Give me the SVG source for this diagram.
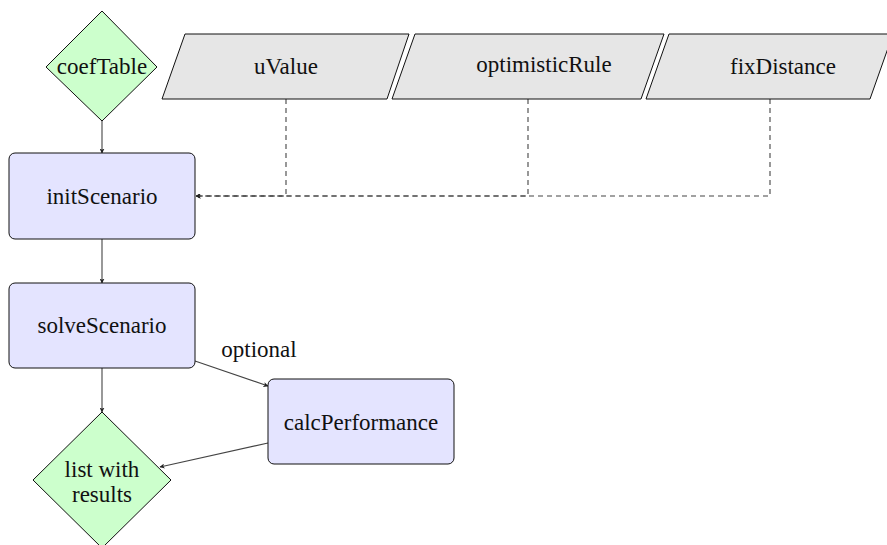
<svg xmlns="http://www.w3.org/2000/svg" width="887" height="545" viewBox="0 0 887 545">
<defs>
<marker id="ah" viewBox="0 0 10 10" refX="9" refY="5" markerWidth="5" markerHeight="5" markerUnits="userSpaceOnUse" orient="auto">
<path d="M0,0 L10,5 L0,10 L2.5,5 Z" fill="#222"/>
</marker>
</defs>
<style>
text{font-family:'Liberation Serif','Times New Roman',serif;font-size:23px;fill:#111;text-anchor:middle}
.dia{fill:#ccffcc;stroke:#111;stroke-width:1}
.proc{fill:#e4e4ff;stroke:#111;stroke-width:1}
.io{fill:#e6e6e6;stroke:#111;stroke-width:1}
.c{fill:none;stroke:#444;stroke-width:1.1}
.d{fill:none;stroke:#444;stroke-width:1.1;stroke-dasharray:5,4}
</style>
<g id="connectors">
<line class="c" x1="102" y1="121" x2="102" y2="153" marker-end="url(#ah)"/>
<line class="c" x1="102" y1="239" x2="102" y2="283" marker-end="url(#ah)"/>
<line class="c" x1="102" y1="368" x2="102" y2="412" marker-end="url(#ah)"/>
<line class="c" x1="195" y1="361" x2="268" y2="386" marker-end="url(#ah)"/>
<line class="c" x1="268" y1="443" x2="160" y2="467" marker-end="url(#ah)"/>
<polyline class="d" points="286,99 286,196 196,196" marker-end="url(#ah)"/>
<polyline class="d" points="528,99 528,196 196,196" marker-end="url(#ah)"/>
<polyline class="d" points="770,99 770,196 196,196" marker-end="url(#ah)"/>
<text x="259" y="357">optional</text>
</g>
<g id="coefTable">
<polygon class="dia" points="102,11 157,67 102,121 46,67"/>
<text x="102" y="74">coefTable</text>
</g>
<g id="uValue">
<polygon class="io" points="185,34 409,34 387,99 162,99"/>
<text x="286" y="74">uValue</text>
</g>
<g id="optimisticRule">
<polygon class="io" points="415,34 664,34 641,99 392,99"/>
<text x="544" y="72">optimisticRule</text>
</g>
<g id="fixDistance">
<polygon class="io" points="669,34 893,34 870,99 646,99"/>
<text x="783" y="74">fixDistance</text>
</g>
<g id="initScenario">
<rect class="proc" x="9" y="153" width="186" height="86" rx="6"/>
<text x="102" y="204">initScenario</text>
</g>
<g id="solveScenario">
<rect class="proc" x="9" y="283" width="186" height="85" rx="6"/>
<text x="102" y="333">solveScenario</text>
</g>
<g id="calcPerformance">
<rect class="proc" x="268" y="379" width="186" height="85" rx="6"/>
<text x="361" y="430">calcPerformance</text>
</g>
<g id="listWithResults">
<polygon class="dia" points="102,412 171,480 102,548 33,480"/>
<text x="102" y="477">list with</text>
<text x="102" y="502">results</text>
</g>
</svg>
